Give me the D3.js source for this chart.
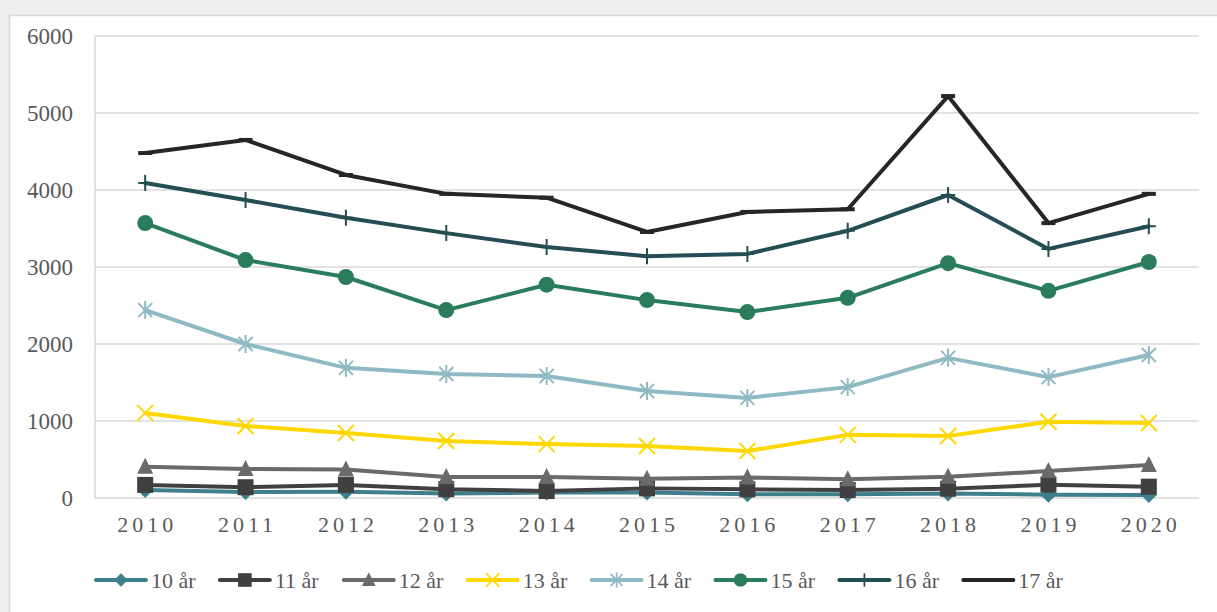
<!DOCTYPE html>
<html>
<head>
<meta charset="utf-8">
<title>Line chart</title>
<script src="https://d3js.org/d3.v7.min.js"></script>
<style>
  body { margin: 0; background: #efefef; }
</style>
</head>
<body>
<svg id="chart" width="1217" height="612"></svg>
<script>
// data
const years = ["2010", "2011", "2012", "2013", "2014", "2015", "2016", "2017", "2018", "2019", "2020"];
const yTicks = [0, 1000, 2000, 3000, 4000, 5000, 6000];

const ar10 = [104, 78, 82, 60, 70, 70, 48, 48, 60, 43, 40];
const ar11 = [170, 140, 170, 115, 90, 125, 113, 104, 120, 173, 147];
const ar12 = [405, 378, 370, 272, 272, 250, 265, 245, 275, 350, 430];
const ar13 = [1105, 935, 845, 740, 700, 675, 610, 820, 805, 990, 975];
const ar14 = [2440, 2000, 1690, 1610, 1585, 1390, 1300, 1440, 1820, 1570, 1857];
const ar15 = [3570, 3090, 2870, 2440, 2770, 2570, 2415, 2600, 3050, 2690, 3065];
const ar16 = [4090, 3870, 3640, 3440, 3260, 3140, 3170, 3470, 3935, 3235, 3530];
const ar17 = [4480, 4650, 4195, 3950, 3900, 3455, 3715, 3750, 5220, 3570, 3950];

const series = [
  { name: "10 år", values: ar10, color: "#3e7f8b", marker: "diamond" },
  { name: "11 år", values: ar11, color: "#404040", marker: "square" },
  { name: "12 år", values: ar12, color: "#6a6a6a", marker: "triangle" },
  { name: "13 år", values: ar13, color: "#ffd700", marker: "x" },
  { name: "14 år", values: ar14, color: "#8fbac3", marker: "star" },
  { name: "15 år", values: ar15, color: "#2a7c5d", marker: "circle" },
  { name: "16 år", values: ar16, color: "#244d54", marker: "plus" },
  { name: "17 år", values: ar17, color: "#262626", marker: "dash" }
];

const FONT = "'Liberation Serif'";
const svg = d3.select("#chart");

// white chart panel
svg.append("rect")
  .attr("x", 9.5).attr("y", 15.5)
  .attr("width", 1220).attr("height", 610)
  .attr("fill", "#fff")
  .attr("stroke", "#d9d9d9")
  .attr("stroke-width", 1.5);

const plotLeft = 95, plotRight = 1199, plotTop = 36, plotBottom = 498;

const x = d3.scaleBand().domain(years).range([plotLeft, plotRight]);
const y = d3.scaleLinear().domain([0, 6000]).range([plotBottom, plotTop]);

// gridlines
svg.append("g")
  .selectAll("line")
  .data(yTicks)
  .join("line")
  .attr("x1", plotLeft).attr("x2", plotRight)
  .attr("y1", d => y(d)).attr("y2", d => y(d))
  .attr("stroke", "#d9d9d9")
  .attr("stroke-width", 1.5);

svg.append("line")
  .attr("x1", plotLeft).attr("x2", plotLeft)
  .attr("y1", plotTop).attr("y2", plotBottom)
  .attr("stroke", "#d9d9d9")
  .attr("stroke-width", 1.5);

// y labels
svg.append("g")
  .selectAll("text")
  .data(yTicks)
  .join("text")
  .attr("x", 73)
  .attr("y", d => y(d) + 8)
  .attr("text-anchor", "end")
  .attr("font-family", FONT)
  .attr("font-size", 23)
  .attr("fill", "#595959")
  .text(d => d);

// x labels
svg.append("g")
  .selectAll("text")
  .data(years)
  .join("text")
  .attr("x", d => x(d) + x.bandwidth() / 2 + 2)
  .attr("y", 532)
  .attr("text-anchor", "middle")
  .attr("font-family", FONT)
  .attr("font-size", 22)
  .attr("letter-spacing", 4)
  .attr("fill", "#595959")
  .text(d => d);

function drawMarker(g, type, color) {
  switch (type) {
    case "diamond":
      g.append("path").attr("d", "M0,-8L8,0L0,8L-8,0Z").attr("fill", color);
      break;
    case "square":
      g.append("rect").attr("x", -8).attr("y", -8).attr("width", 16).attr("height", 16).attr("fill", color);
      break;
    case "triangle":
      g.append("path").attr("d", "M0,-9L8,7L-8,7Z").attr("fill", color);
      break;
    case "x":
      g.append("path").attr("d", "M-8,-8L8,8M-8,8L8,-8").attr("stroke", color).attr("stroke-width", 2);
      break;
    case "star":
      g.append("path").attr("d", "M-7,-7L7,7M-7,7L7,-7M0,-9L0,9").attr("stroke", color).attr("stroke-width", 2);
      break;
    case "circle":
      g.append("circle").attr("r", 8).attr("fill", color);
      break;
    case "plus":
      g.append("path").attr("d", "M-7,0L7,0M0,-8L0,8").attr("stroke", color).attr("stroke-width", 2);
      break;
    case "dash":
      g.append("path").attr("d", "M-7,0L7,0").attr("stroke", color).attr("stroke-width", 4);
      break;
  }
}

const line = d3.line()
  .x((d, i) => x(years[i]) + x.bandwidth() / 2)
  .y(d => y(d));

series.forEach(s => {
  svg.append("path")
    .datum(s.values)
    .attr("d", line)
    .attr("fill", "none")
    .attr("stroke", s.color)
    .attr("stroke-width", 4)
    .attr("stroke-linejoin", "round")
    .attr("stroke-linecap", "round");

  svg.append("g")
    .selectAll("g")
    .data(s.values)
    .join("g")
    .attr("transform", (d, i) => `translate(${x(years[i]) + x.bandwidth() / 2},${y(d)})`)
    .each(function () { drawMarker(d3.select(this), s.marker, s.color); });
});

// legend
const legend = svg.append("g")
  .selectAll("g")
  .data(series)
  .join("g")
  .attr("transform", (d, i) => `translate(${96 + i * 123.9},580)`);

legend.append("line")
  .attr("x1", 0).attr("x2", 50)
  .attr("stroke", d => d.color)
  .attr("stroke-width", 4)
  .attr("stroke-linecap", "round");

legend.each(function (d) {
  const g = d3.select(this).append("g").attr("transform", "translate(25,0) scale(0.85)");
  drawMarker(g, d.marker, d.color);
});

legend.append("text")
  .attr("x", 55)
  .attr("y", 8)
  .attr("font-family", FONT)
  .attr("font-size", 22)
  .attr("fill", "#595959")
  .text(d => d.name);
</script>
</body>
</html>
